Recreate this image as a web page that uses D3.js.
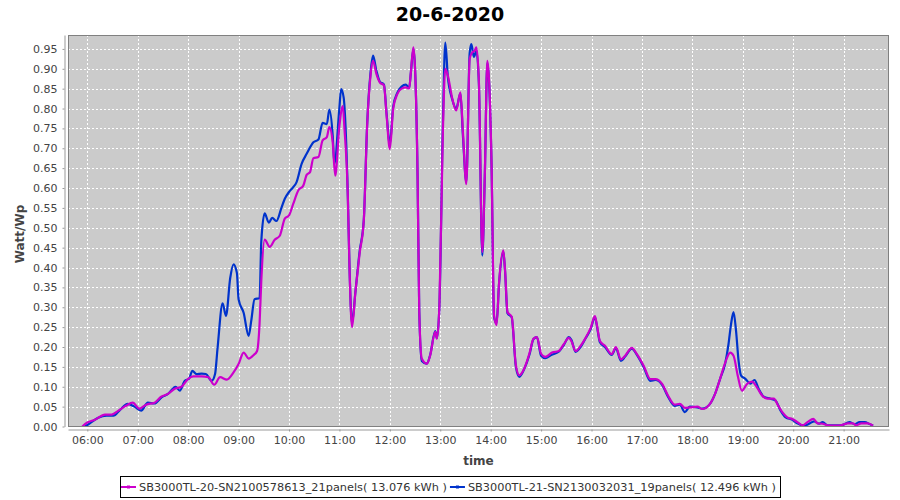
<!DOCTYPE html>
<html>
<head>
<meta charset="utf-8">
<script src="https://cdn.jsdelivr.net/npm/d3@7"></script>
<style>
  body { margin: 0; background: #fff; }
  svg { font-family: "DejaVu Sans", sans-serif; }
</style>
</head>
<body>
<div id="chart"></div>
<script>
// datos (hora, Watt/Wp)
var titulo = "20-6-2020";
var nombreSerieA = "SB3000TL-20-SN2100578613_21panels( 13.076 kWh )";
var nombreSerieB = "SB3000TL-21-SN2130032031_19panels( 12.496 kWh )";

var timesA = ["05:54","06:00","06:09","06:21","06:29","06:37","06:46","06:54","07:02","07:10","07:20","07:28","07:36","07:44","07:52","08:00","08:06","08:16","08:24","08:31","08:38","08:46","08:54","09:00","09:06","09:12","09:18","09:22","09:25","09:27","09:31","09:37","09:43","09:49","09:55","10:00","10:05","10:11","10:17","10:21","10:25","10:29","10:35","10:40","10:45","10:48","10:52","10:55","11:00","11:04","11:06","11:10","11:12","11:15","11:19","11:24","11:29","11:33","11:37","11:40","11:44","11:48","11:53","11:56","12:00","12:04","12:09","12:14","12:19","12:23","12:25","12:28","12:30","12:33","12:35","12:38","12:44","12:48","12:54","12:56","12:59","13:03","13:06","13:09","13:14","13:19","13:24","13:27","13:31","13:35","13:38","13:41","13:43","13:46","13:50","13:53","13:56","13:58","14:01","14:04","14:07","14:10","14:15","14:17","14:20","14:25","14:30","14:34","14:40","14:46","14:51","14:55","15:00","15:05","15:13","15:21","15:27","15:33","15:36","15:41","15:47","15:53","15:59","16:04","16:06","16:10","16:16","16:24","16:29","16:35","16:40","16:48","16:54","17:02","17:10","17:16","17:24","17:31","17:39","17:45","17:51","17:57","18:06","18:12","18:21","18:27","18:33","18:39","18:45","18:49","18:54","18:59","19:05","19:11","19:17","19:23","19:29","19:37","19:42","19:47","19:53","19:59","20:05","20:11","20:17","20:24","20:29","20:35","20:41","20:49","20:57","21:05","21:11","21:15","21:21","21:29","21:35"];
var valuesA = [0.000,0.010,0.017,0.030,0.030,0.040,0.052,0.060,0.045,0.055,0.060,0.075,0.082,0.095,0.100,0.120,0.126,0.126,0.124,0.105,0.124,0.118,0.136,0.157,0.186,0.171,0.180,0.190,0.260,0.365,0.470,0.452,0.470,0.480,0.523,0.531,0.560,0.594,0.606,0.633,0.640,0.675,0.678,0.720,0.728,0.753,0.715,0.631,0.757,0.806,0.749,0.580,0.397,0.250,0.338,0.435,0.518,0.757,0.883,0.920,0.887,0.866,0.858,0.786,0.698,0.800,0.837,0.850,0.853,0.850,0.891,0.954,0.900,0.631,0.288,0.171,0.158,0.179,0.238,0.221,0.305,0.732,0.900,0.883,0.828,0.795,0.841,0.740,0.610,0.925,0.941,0.946,0.954,0.866,0.439,0.631,0.920,0.874,0.665,0.280,0.255,0.363,0.443,0.397,0.288,0.276,0.154,0.129,0.146,0.183,0.221,0.225,0.183,0.175,0.186,0.190,0.207,0.223,0.215,0.190,0.203,0.223,0.248,0.278,0.260,0.215,0.203,0.182,0.200,0.169,0.178,0.198,0.182,0.153,0.119,0.119,0.107,0.078,0.055,0.057,0.047,0.048,0.050,0.044,0.057,0.082,0.120,0.160,0.186,0.178,0.128,0.090,0.107,0.113,0.098,0.078,0.070,0.070,0.053,0.036,0.023,0.019,0.011,0.003,0.011,0.019,0.008,0.007,0.003,0.002,0.003,0.008,0.008,0.003,0.008,0.008,0.002];

var timesB = ["05:57","06:03","06:13","06:23","06:31","06:39","06:48","06:56","07:04","07:12","07:20","07:28","07:36","07:45","07:50","07:56","08:01","08:05","08:10","08:16","08:21","08:28","08:32","08:35","08:41","08:45","08:50","08:54","08:58","09:00","09:06","09:12","09:15","09:19","09:25","09:27","09:31","09:36","09:40","09:45","09:51","09:55","10:00","10:05","10:09","10:15","10:21","10:29","10:35","10:40","10:45","10:48","10:52","10:54","11:00","11:02","11:05","11:10","11:12","11:15","11:19","11:24","11:29","11:33","11:37","11:40","11:44","11:48","11:53","11:56","12:00","12:04","12:09","12:14","12:19","12:23","12:25","12:28","12:30","12:33","12:35","12:38","12:44","12:48","12:54","12:56","12:59","13:03","13:06","13:09","13:14","13:19","13:24","13:27","13:31","13:35","13:37","13:40","13:43","13:46","13:50","13:53","13:56","13:58","14:01","14:04","14:07","14:10","14:15","14:17","14:20","14:25","14:30","14:34","14:40","14:46","14:51","14:55","15:00","15:05","15:12","15:21","15:27","15:33","15:36","15:41","15:47","15:53","15:59","16:04","16:06","16:10","16:16","16:24","16:29","16:35","16:40","16:48","16:54","17:02","17:10","17:16","17:24","17:31","17:39","17:45","17:51","17:57","18:06","18:12","18:21","18:27","18:33","18:39","18:43","18:46","18:49","18:52","18:55","18:58","19:03","19:09","19:14","19:19","19:25","19:33","19:39","19:45","19:51","19:59","20:05","20:13","20:19","20:25","20:31","20:35","20:41","20:57","21:07","21:13","21:19","21:25","21:31","21:35"];
var valuesB = [0.000,0.008,0.022,0.027,0.027,0.042,0.057,0.050,0.040,0.060,0.058,0.073,0.082,0.100,0.090,0.115,0.120,0.140,0.132,0.133,0.132,0.115,0.132,0.198,0.310,0.278,0.373,0.408,0.386,0.320,0.286,0.228,0.265,0.320,0.323,0.465,0.536,0.513,0.525,0.517,0.550,0.573,0.590,0.602,0.615,0.661,0.686,0.715,0.722,0.764,0.761,0.797,0.732,0.661,0.803,0.849,0.828,0.580,0.400,0.260,0.338,0.440,0.520,0.760,0.890,0.933,0.895,0.868,0.860,0.790,0.710,0.805,0.840,0.855,0.860,0.852,0.890,0.950,0.900,0.630,0.290,0.165,0.158,0.180,0.240,0.222,0.305,0.750,0.966,0.880,0.825,0.800,0.838,0.730,0.615,0.940,0.962,0.930,0.945,0.860,0.430,0.630,0.915,0.870,0.660,0.275,0.260,0.360,0.440,0.395,0.285,0.275,0.150,0.125,0.145,0.180,0.220,0.225,0.178,0.172,0.180,0.188,0.205,0.225,0.218,0.188,0.200,0.222,0.245,0.275,0.258,0.212,0.200,0.180,0.197,0.165,0.176,0.196,0.180,0.150,0.115,0.117,0.105,0.075,0.052,0.055,0.036,0.050,0.048,0.045,0.057,0.082,0.120,0.158,0.207,0.257,0.288,0.240,0.165,0.128,0.120,0.108,0.117,0.094,0.075,0.070,0.065,0.040,0.023,0.017,0.008,0.002,0.007,0.013,0.007,0.011,0.003,0.003,0.011,0.006,0.011,0.011,0.006,0.002];

// etiquetas de los ejes
var horasTicks = ["06:00","07:00","08:00","09:00","10:00","11:00","12:00","13:00","14:00","15:00","16:00","17:00","18:00","19:00","20:00","21:00"];
var valoresTicks = [0,0.05,0.10,0.15,0.20,0.25,0.30,0.35,0.40,0.45,0.50,0.55,0.60,0.65,0.70,0.75,0.80,0.85,0.90,0.95];
var rangoHoras = ["05:37","21:54"];
var rangoValores = [0, 0.985];

// parametros para la grafica
var width = 900;
var height = 500;
var plotLeft = 68;
var plotTop = 35;
var plotRight = 889;
var plotBottom = 427;
var colorA = "#cc00cc";
var colorB = "#0033cc";
var colorTexto = "#444";

/* Format Data */
var parseHora = d3.timeParse("%H:%M");
var serieA = timesA.map((t, i) => ({ fecha: parseHora(t), valor: valuesA[i] }));
var serieB = timesB.map((t, i) => ({ fecha: parseHora(t), valor: valuesB[i] }));

/* Scale */
var xScale = d3.scaleTime()
  .domain(rangoHoras.map(parseHora))
  .range([plotLeft, plotRight]);

var yScale = d3.scaleLinear()
  .domain(rangoValores)
  .range([plotBottom - 0.5, plotTop]);

/* Add SVG */
var svg = d3.select("#chart").append("svg")
  .attr("width", width)
  .attr("height", height);

svg.append("defs").append("clipPath")
  .attr("id", "clip")
  .append("rect")
  .attr("x", plotLeft)
  .attr("y", plotTop)
  .attr("width", plotRight - plotLeft)
  .attr("height", plotBottom - plotTop);

// fondo del area de la grafica
svg.append("rect")
  .attr("x", plotLeft)
  .attr("y", plotTop)
  .attr("width", plotRight - plotLeft)
  .attr("height", plotBottom - plotTop)
  .attr("fill", "#cbcbcb");

// rejilla
var grid = svg.append("g")
  .attr("stroke", "#fff")
  .attr("stroke-width", 1)
  .attr("stroke-dasharray", "2,2");

grid.selectAll(".gy")
  .data(valoresTicks).enter()
  .append("line")
  .attr("x1", plotLeft)
  .attr("x2", plotRight)
  .attr("y1", d => Math.round(yScale(d)) + 0.5)
  .attr("y2", d => Math.round(yScale(d)) + 0.5);

grid.selectAll(".gx")
  .data(horasTicks.map(parseHora)).enter()
  .append("line")
  .attr("y1", plotTop)
  .attr("y2", plotBottom)
  .attr("x1", d => Math.round(xScale(d)) + 0.5)
  .attr("x2", d => Math.round(xScale(d)) + 0.5);

/* Add lines */
var line = d3.line()
  .x(d => xScale(d.fecha))
  .y(d => yScale(d.valor))
  .curve(d3.curveMonotoneX);

var lines = svg.append("g")
  .attr("clip-path", "url(#clip)");

lines.append("path")
  .attr("d", line(serieB))
  .attr("fill", "none")
  .attr("stroke", colorB)
  .attr("stroke-width", 2.2)
  .attr("stroke-linejoin", "round");

lines.append("path")
  .attr("d", line(serieA))
  .attr("fill", "none")
  .attr("stroke", colorA)
  .attr("stroke-width", 2.2)
  .attr("stroke-linejoin", "round");

// borde del area
svg.append("rect")
  .attr("x", plotLeft + 0.5)
  .attr("y", plotTop + 0.5)
  .attr("width", plotRight - plotLeft - 1)
  .attr("height", plotBottom - plotTop - 1)
  .attr("fill", "none")
  .attr("stroke", "#808080");

/* Add Axis */
var xAxis = d3.axisBottom(xScale)
  .tickValues(horasTicks.map(parseHora))
  .tickFormat(d3.timeFormat("%H:%M"))
  .tickSizeInner(2)
  .tickSizeOuter(0)
  .tickPadding(5);

var yAxis = d3.axisLeft(yScale)
  .tickValues(valoresTicks)
  .tickFormat(d3.format(".2f"))
  .tickSizeInner(2)
  .tickSizeOuter(0)
  .tickPadding(5);

var gx = svg.append("g")
  .attr("transform", `translate(0, ${plotBottom + 2.5})`)
  .call(xAxis);

var gy = svg.append("g")
  .attr("transform", `translate(${plotLeft - 3.5}, 0)`)
  .call(yAxis);

[gx, gy].forEach(function (g) {
  g.select(".domain").attr("stroke", "#999");
  g.selectAll(".tick line").attr("stroke", "#999");
  g.selectAll(".tick text")
    .attr("fill", colorTexto)
    .style("font-family", "DejaVu Sans")
    .style("font-size", "11px");
});

/* Titles */
svg.append("text")
  .attr("x", width / 2)
  .attr("y", 21)
  .attr("text-anchor", "middle")
  .style("font-size", "19px")
  .style("font-weight", "bold")
  .attr("fill", "#000")
  .text(titulo);

svg.append("text")
  .attr("x", (plotLeft + plotRight) / 2)
  .attr("y", 465)
  .attr("text-anchor", "middle")
  .style("font-size", "12px")
  .style("font-weight", "bold")
  .attr("fill", colorTexto)
  .text("time");

svg.append("text")
  .attr("transform", `translate(24, ${(plotTop + plotBottom) / 2 + 3}) rotate(-90)`)
  .attr("text-anchor", "middle")
  .style("font-size", "12px")
  .style("font-weight", "bold")
  .attr("fill", colorTexto)
  .text("Watt/Wp");

/* Legend */
var legend = svg.append("g");
var legendBox = legend.append("rect")
  .attr("fill", "#fff")
  .attr("stroke", "#000");
var legendContent = legend.append("g");
var legendItems = [
  { nombre: nombreSerieA, color: colorA },
  { nombre: nombreSerieB, color: colorB }
];
var cursor = 1;
legendItems.forEach(function (item) {
  var g = legendContent.append("g").attr("transform", `translate(${cursor}, 0)`);
  g.append("line")
    .attr("x1", 0).attr("x2", 15)
    .attr("y1", 0).attr("y2", 0)
    .attr("stroke", item.color)
    .attr("stroke-width", 2);
  g.append("rect")
    .attr("x", 6).attr("y", -1.5)
    .attr("width", 3).attr("height", 3)
    .attr("fill", item.color);
  var t = g.append("text")
    .attr("x", 18)
    .attr("y", 4)
    .style("font-size", "11.3px")
    .attr("fill", "#333")
    .text(item.nombre);
  cursor += 18 + t.node().getComputedTextLength() + 3;
});
var legendWidth = Math.round(cursor + 1);
var legendLeft = Math.round(width / 2 - legendWidth / 2);
legendBox
  .attr("x", 0.5)
  .attr("y", -10.5)
  .attr("width", legendWidth)
  .attr("height", 21);
legend.attr("transform", `translate(${legendLeft}, 487)`);
</script>
</body>
</html>
